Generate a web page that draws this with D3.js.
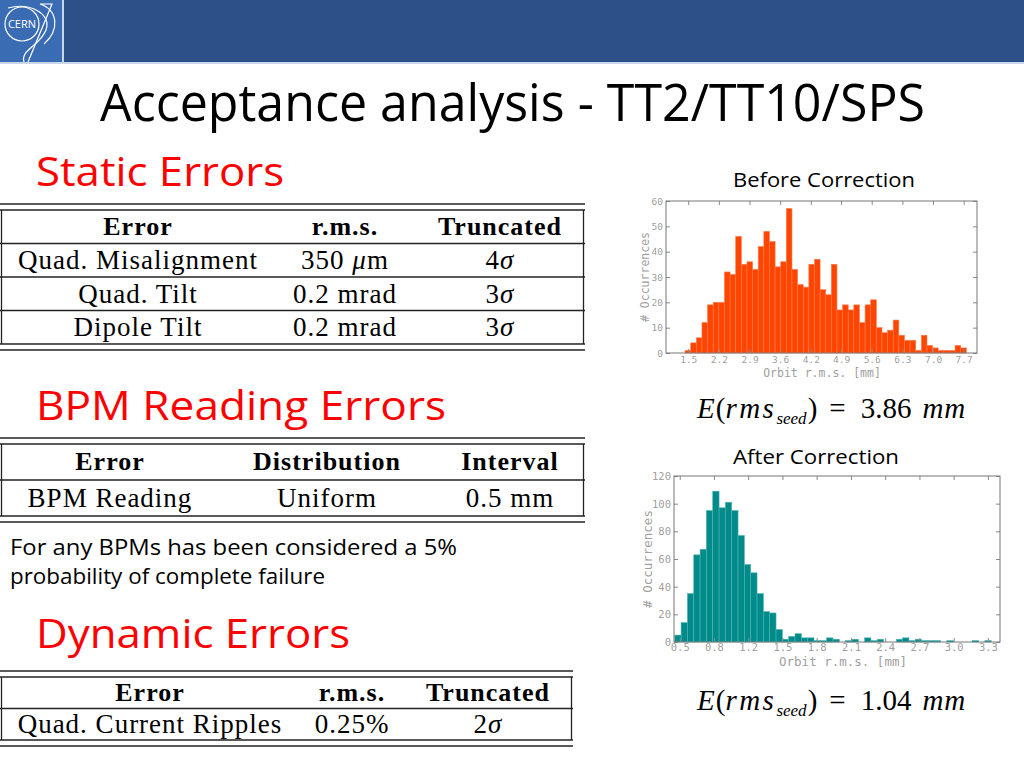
<!DOCTYPE html>
<html><head><meta charset="utf-8">
<script src="https://cdn.jsdelivr.net/npm/d3@7/dist/d3.min.js"></script>
<style>body{margin:0;background:#fff}svg{display:block}</style>
</head><body><svg id="c" width="1024" height="768"></svg>
<script>
// ---------- data ----------
const slideTitle = "Acceptance analysis - TT2/TT10/SPS";
const sectionTitles = ["Static Errors", "BPM Reading Errors", "Dynamic Errors"];
const staticHeader = ["Error", "r.m.s.", "Truncated"];
const staticRows = [["Quad. Misalignment", "350 μm", "4σ"], ["Quad. Tilt", "0.2 mrad", "3σ"], ["Dipole Tilt", "0.2 mrad", "3σ"]];
const bpmHeader = ["Error", "Distribution", "Interval"];
const bpmRows = [["BPM Reading", "Uniform", "0.5 mm"]];
const dynHeader = ["Error", "r.m.s.", "Truncated"];
const dynRows = [["Quad. Current Ripples", "0.25%", "2σ"]];
const noteLines = ["For any BPMs has been considered a 5%", "probability of complete failure"];

const beforeTitle = "Before Correction";
const beforeMean = "3.86";
const beforeCounts = [1, 4, 6, 12, 19, 20, 20, 32, 31, 46, 35, 36, 33, 42, 48, 44, 34, 36, 57, 33,
  27, 26, 35, 37, 25, 23, 35, 17, 19, 17, 19, 12, 19, 21, 10, 8, 9, 13, 7, 5,
  5, 1, 7, 3, 2, 1, 1, 1, 3, 2];
const beforeBinStart = 1.43, beforeBinWidth = 0.1266;
const beforeXDomain = [1.0, 8.0];
const beforeXTicks = [1.5, 2.19, 2.88, 3.57, 4.26, 4.94, 5.63, 6.32, 7.01, 7.7];
const beforeXTickLabels = ["1.5", "2.2", "2.9", "3.6", "4.2", "4.9", "5.6", "6.3", "7.0", "7.7"];
const beforeYTicks = [0, 10, 20, 30, 40, 50, 60];

const afterTitle = "After Correction";
const afterMean = "1.04";
const afterCounts = [5, 14, 35, 63, 67, 95, 109, 97, 101, 95, 77, 56, 50, 35, 22, 21, 9, 2, 4, 6,
  3, 3, 1, 1, 3, 2, 0, 1, 2, 0, 3, 1, 2, 0, 0, 2, 3, 1, 2, 1,
  1, 1, 0, 1, 0, 0, 0, 1, 0, 1];
const afterBinStart = 0.455, afterBinWidth = 0.0575;
const afterXDomain = [0.448, 3.41];
const afterXTicks = [0.5, 0.811, 1.122, 1.433, 1.744, 2.056, 2.367, 2.678, 2.989, 3.3];
const afterXTickLabels = ["0.5", "0.8", "1.2", "1.5", "1.8", "2.1", "2.4", "2.7", "3.0", "3.3"];
const afterYTicks = [0, 20, 40, 60, 80, 100, 120];

const xAxisLabel = "Orbit r.m.s. [mm]";
const yAxisLabel = "# Occurrences";

// ---------- drawing ----------
const svg = d3.select("#c");
const SANS = "'Open Sans', 'Liberation Sans', sans-serif";
const SERIF = "'Liberation Serif', 'DejaVu Serif', serif";
const MONO = "'DejaVu Sans Mono', monospace";

// banner
svg.append("rect").attr("x", 0).attr("y", 0).attr("width", 1024).attr("height", 62).attr("fill", "#2c5189");
svg.append("rect").attr("x", 0).attr("y", 62).attr("width", 1024).attr("height", 2).attr("fill", "#c9d6ea");
const logo = svg.append("g");
logo.append("rect").attr("x", 0).attr("y", 0).attr("width", 62).attr("height", 62).attr("fill", "#3a6cb4");
logo.append("rect").attr("x", 62).attr("y", 0).attr("width", 2).attr("height", 64).attr("fill", "#c9d6ea");
logo.append("circle").attr("cx", 22).attr("cy", 24).attr("r", 17).attr("fill", "none").attr("stroke", "#fff").attr("stroke-width", 1.2);
logo.append("path").attr("d", "M8,8 C30,2 52,14 46,30 C40,46 20,50 24,62").attr("fill", "none").attr("stroke", "#fff").attr("stroke-width", 1.2);
logo.append("path").attr("d", "M40,4 C58,10 60,30 44,44 M40,4 L52,4 L28,62").attr("fill", "none").attr("stroke", "#fff").attr("stroke-width", 1.2);
logo.append("text").attr("x", 22).attr("y", 28).attr("text-anchor", "middle").attr("fill", "#fff")
  .attr("font-family", SANS).attr("font-size", 11).text("CERN");

// title
svg.append("text").attr("x", 100).attr("y", 121).attr("font-family", SANS).attr("font-size", 51)
  .attr("fill", "#000").attr("textLength", 825).attr("lengthAdjust", "spacingAndGlyphs").text(slideTitle);

// section titles
const secPos = [{y: 186, w: 248}, {y: 420, w: 410}, {y: 648, w: 314}];
sectionTitles.forEach((t, i) => {
  svg.append("text").attr("x", 36).attr("y", secPos[i].y).attr("font-family", SANS).attr("font-size", 41)
    .attr("fill", "#ff0000").attr("textLength", secPos[i].w).attr("lengthAdjust", "spacingAndGlyphs").text(t);
});

// cell text with italic greek letters
function cellText(sel, str) {
  const parts = str.split(/([μσ])/).filter(s => s.length);
  parts.forEach(p => {
    const ts = sel.append("tspan").text(p);
    if (/[μσ]/.test(p)) ts.attr("font-style", "italic");
  });
}

function drawTable(cfg, header, rows) {
  const g = svg.append("g");
  const ln = (x1, y1, x2, y2, w) => g.append("line").attr("x1", x1).attr("y1", y1).attr("x2", x2).attr("y2", y2)
    .attr("stroke", "#222").attr("stroke-width", w || 1.3);
  ln(0, cfg.top, cfg.right, cfg.top);
  ln(0, cfg.top + 6, cfg.right, cfg.top + 6);
  const bottomInner = cfg.top + 6 + cfg.rowH * (rows.length + 1);
  ln(0, bottomInner, cfg.right, bottomInner);
  ln(0, bottomInner + 6, cfg.right, bottomInner + 6);
  ln(1.5, cfg.top + 6, 1.5, bottomInner);
  ln(cfg.right - 1.5, cfg.top + 6, cfg.right - 1.5, bottomInner);
  for (let r = 1; r <= rows.length; r++) ln(0, cfg.top + 6 + cfg.rowH * r, cfg.right, cfg.top + 6 + cfg.rowH * r);
  header.forEach((h, c) => {
    g.append("text").attr("x", cfg.cols[c]).attr("y", cfg.top + 6 + cfg.rowH / 2 + 8).attr("text-anchor", "middle")
      .attr("font-family", SERIF).attr("font-weight", "bold").attr("font-size", 26).attr("letter-spacing", 1).text(h);
  });
  rows.forEach((row, r) => {
    row.forEach((cell, c) => {
      const t = g.append("text").attr("x", cfg.cols[c]).attr("y", cfg.top + 6 + cfg.rowH * (r + 1) + cfg.rowH / 2 + 9)
        .attr("text-anchor", "middle").attr("font-family", SERIF).attr("font-size", 27).attr("letter-spacing", 1);
      cellText(t, cell);
    });
  });
}
drawTable({top: 204, right: 585, rowH: 33.5, cols: [138, 345, 500]}, staticHeader, staticRows);
drawTable({top: 438, right: 585, rowH: 36, cols: [110, 327, 510]}, bpmHeader, bpmRows);
drawTable({top: 671, right: 573, rowH: 31.5, cols: [150, 352, 488]}, dynHeader, dynRows);

// note
const noteW = [447, 315];
noteLines.forEach((t, i) => {
  svg.append("text").attr("x", 10).attr("y", 555 + i * 29).attr("font-family", SANS).attr("font-size", 22)
    .attr("fill", "#000").attr("textLength", noteW[i]).attr("lengthAdjust", "spacingAndGlyphs").text(t);
});

// formulas
function formula(x, y, val) {
  const t = svg.append("text").attr("x", x).attr("y", y).attr("font-family", SERIF).attr("font-size", 29);
  t.append("tspan").attr("font-style", "italic").text("E");
  t.append("tspan").attr("dx", 1).text("(");
  t.append("tspan").attr("font-style", "italic").attr("letter-spacing", 2.5).text("rms");
  t.append("tspan").attr("font-style", "italic").attr("font-size", 17).attr("dy", 6).attr("letter-spacing", 0).text("seed");
  t.append("tspan").attr("dy", -6).attr("dx", 1).text(")");
  t.append("tspan").attr("dx", 12).text("=");
  t.append("tspan").attr("dx", 15).text(val);
  t.append("tspan").attr("dx", 11).attr("font-style", "italic").attr("letter-spacing", 1).text("mm");
}
formula(697, 418, beforeMean);
formula(697, 710, afterMean);

// histograms
function histogram(cfg) {
  const g = svg.append("g");
  const x = d3.scaleLinear().domain(cfg.xDomain).range([cfg.left, cfg.right]);
  const y = d3.scaleLinear().domain([0, cfg.yTicks[cfg.yTicks.length - 1]]).range([cfg.bottom, cfg.top]);
  const bins = cfg.counts.map((c, i) => ({x0: cfg.binStart + i * cfg.binWidth, x1: cfg.binStart + (i + 1) * cfg.binWidth, n: c}));
  g.append("text").attr("x", cfg.titleX).attr("y", cfg.titleY).attr("text-anchor", "middle")
    .attr("font-family", SANS).attr("font-size", 20).attr("fill", "#000")
    .attr("textLength", cfg.titleW).attr("lengthAdjust", "spacingAndGlyphs").text(cfg.title);
  g.selectAll("rect.bar").data(bins.filter(b => b.n > 0)).join("rect").attr("class", "bar")
    .attr("x", d => x(d.x0)).attr("width", d => x(d.x1) - x(d.x0))
    .attr("y", d => y(d.n)).attr("height", d => y(0) - y(d.n))
    .attr("fill", cfg.color).attr("stroke", cfg.edge).attr("stroke-width", 0.6);
  const tickCol = "#8a8a8a", labCol = "#a0a0a0";
  const style = (a) => {
    a.select(".domain").remove();
    a.selectAll(".tick line").attr("stroke", tickCol);
    a.selectAll("text").attr("fill", labCol).attr("font-family", MONO).attr("font-size", cfg.tickFont);
  };
  g.append("g").attr("transform", `translate(0,${cfg.bottom})`)
    .call(d3.axisBottom(x).tickValues(cfg.xTicks).tickFormat((d, i) => cfg.xTickLabels[i]).tickSize(-4).tickPadding(cfg.xPad))
    .call(style);
  g.append("g").attr("transform", `translate(0,${cfg.top})`)
    .call(d3.axisTop(x).tickValues(cfg.xTicks).tickFormat("").tickSize(-4)).call(style);
  g.append("g").attr("transform", `translate(${cfg.left},0)`)
    .call(d3.axisLeft(y).tickValues(cfg.yTicks).tickSize(-4).tickPadding(3)).call(style);
  g.append("g").attr("transform", `translate(${cfg.right},0)`)
    .call(d3.axisRight(y).tickValues(cfg.yTicks).tickFormat("").tickSize(-4)).call(style);
  g.append("rect").attr("x", cfg.left).attr("y", cfg.top).attr("width", cfg.right - cfg.left).attr("height", cfg.bottom - cfg.top)
    .attr("fill", "none").attr("stroke", "#777").attr("stroke-width", 1);
  g.append("text").attr("x", cfg.xLabX).attr("y", cfg.xLabY).attr("text-anchor", "middle")
    .attr("font-family", MONO).attr("font-size", cfg.labFont).attr("fill", labCol).text(xAxisLabel);
  g.append("text").attr("transform", `translate(${cfg.yLabX},${(cfg.top + cfg.bottom) / 2}) rotate(-90)`)
    .attr("text-anchor", "middle").attr("font-family", MONO).attr("font-size", cfg.labFont).attr("fill", labCol).text(yAxisLabel);
}
histogram({left: 666, right: 977, top: 201, bottom: 353, xDomain: beforeXDomain, yTicks: beforeYTicks,
  counts: beforeCounts, binStart: beforeBinStart, binWidth: beforeBinWidth, xTicks: beforeXTicks, xTickLabels: beforeXTickLabels,
  color: "#ff4500", edge: "#ff7a4a", title: beforeTitle, titleX: 824, titleY: 187, titleW: 182, tickFont: 9.5, labFont: 11.5, xPad: 3,
  xLabX: 822, xLabY: 377, yLabX: 649});
histogram({left: 674, right: 1000, top: 476, bottom: 642, xDomain: afterXDomain, yTicks: afterYTicks,
  counts: afterCounts, binStart: afterBinStart, binWidth: afterBinWidth, xTicks: afterXTicks, xTickLabels: afterXTickLabels,
  color: "#008b8b", edge: "#4fb3b3", title: afterTitle, titleX: 816, titleY: 464, titleW: 166, tickFont: 10.5, labFont: 12.5, xPad: 2,
  xLabX: 843, xLabY: 666, yLabX: 652});
</script></body></html>
